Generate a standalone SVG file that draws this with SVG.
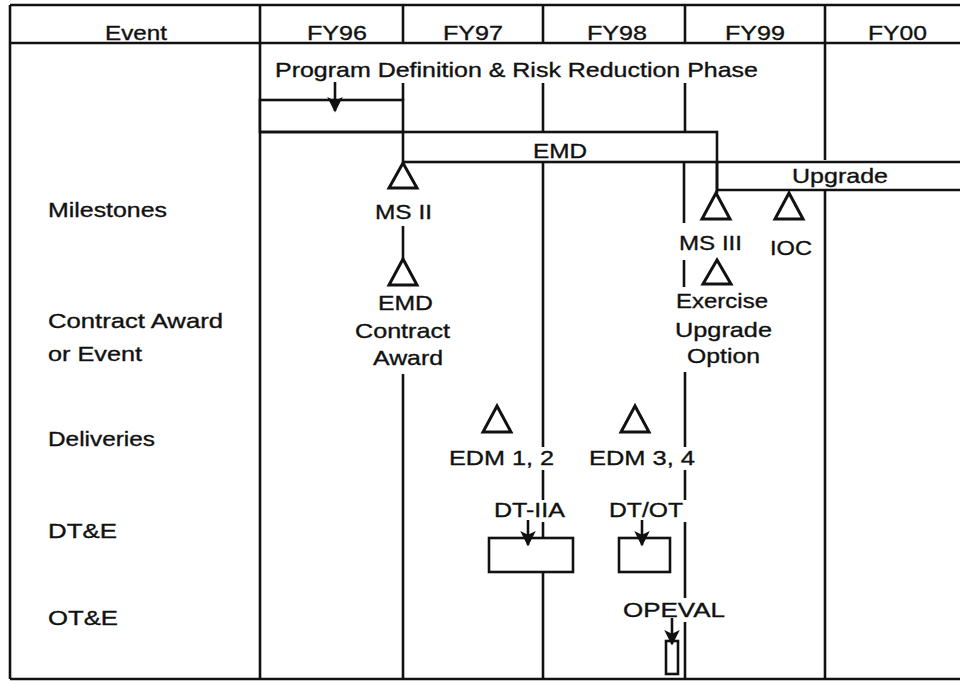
<svg xmlns="http://www.w3.org/2000/svg" width="960" height="681" viewBox="0 0 960 681">
<style>
.t{font-family:"Liberation Sans",Arial,Helvetica,sans-serif;font-size:21px;fill:#111;stroke:#111;stroke-width:0.35}
.ln{stroke:#111;stroke-width:2.6;fill:none;stroke-linecap:butt}
.box{stroke:#111;stroke-width:2.6;fill:#fff}
.tri{stroke:#111;stroke-width:3;fill:#fff;stroke-linejoin:miter}
</style>
<defs>
<marker id="ah" viewBox="0 0 10 10" refX="9" refY="5" markerWidth="6.5" markerHeight="6" orient="auto" markerUnits="strokeWidth">
<path d="M0,0 L10,5 L0,10 L2.5,5 z" fill="#111"/>
</marker>
</defs>
<rect width="960" height="681" fill="#fff"/>

<g id="grid" class="ln">
<line x1="10" y1="5" x2="960" y2="5"/>
<line x1="10" y1="43" x2="960" y2="43"/>
<line x1="10" y1="679" x2="960" y2="679"/>
<line x1="10" y1="5" x2="10" y2="679"/>
<line x1="260" y1="5" x2="260" y2="679"/>
<line x1="403" y1="5" x2="403" y2="43"/>
<line x1="543" y1="5" x2="543" y2="43"/>
<line x1="685" y1="5" x2="685" y2="43"/>
<line x1="825" y1="5" x2="825" y2="160"/>
<line x1="825" y1="190" x2="825" y2="679"/>
</g>

<g id="header">
<text class="t" x="105" y="40" textLength="62" lengthAdjust="spacingAndGlyphs">Event</text>
<text class="t" x="307" y="40" textLength="60" lengthAdjust="spacingAndGlyphs">FY96</text>
<text class="t" x="443" y="40" textLength="60" lengthAdjust="spacingAndGlyphs">FY97</text>
<text class="t" x="587" y="40" textLength="60" lengthAdjust="spacingAndGlyphs">FY98</text>
<text class="t" x="725" y="40" textLength="60" lengthAdjust="spacingAndGlyphs">FY99</text>
<text class="t" x="868" y="40" textLength="59" lengthAdjust="spacingAndGlyphs">FY00</text>
</g>

<g id="row-labels">
<text class="t" x="48" y="217" textLength="119" lengthAdjust="spacingAndGlyphs">Milestones</text>
<text class="t" x="48" y="328" textLength="175" lengthAdjust="spacingAndGlyphs">Contract Award</text>
<text class="t" x="48" y="361" textLength="94" lengthAdjust="spacingAndGlyphs">or Event</text>
<text class="t" x="48" y="446" textLength="107" lengthAdjust="spacingAndGlyphs">Deliveries</text>
<text class="t" x="48" y="538" textLength="69" lengthAdjust="spacingAndGlyphs">DT&amp;E</text>
<text class="t" x="48" y="625" textLength="70" lengthAdjust="spacingAndGlyphs">OT&amp;E</text>
</g>

<g id="pdrr">
<text class="t" x="275" y="77" textLength="483" lengthAdjust="spacingAndGlyphs">Program Definition &amp; Risk Reduction Phase</text>
<rect class="box" x="260" y="100" width="143" height="32"/>
</g>

<g id="emd">
<rect class="box" x="403" y="132" width="314" height="30"/>
<text class="t" x="533" y="158" textLength="54" lengthAdjust="spacingAndGlyphs">EMD</text>
</g>

<g id="upgrade">
<path class="ln" d="M717,162 H960 M717,162 V190 H960"/>
<text class="t" x="792" y="183" textLength="96" lengthAdjust="spacingAndGlyphs">Upgrade</text>
</g>

<g id="connectors" class="ln">
<line x1="403" y1="83" x2="403" y2="100"/>
<line x1="543" y1="83" x2="543" y2="132"/>
<line x1="685" y1="83" x2="685" y2="132"/>
<line x1="260" y1="132" x2="403" y2="132"/>
<line x1="403" y1="226" x2="403" y2="260"/>
<line x1="403" y1="374" x2="403" y2="679"/>
<line x1="543" y1="162" x2="543" y2="447"/>
<line x1="543" y1="470" x2="543" y2="500"/>
<line x1="543" y1="522" x2="543" y2="538"/>
<line x1="543" y1="572" x2="543" y2="679"/>
<line x1="684" y1="162" x2="684" y2="223"/>
<line x1="684" y1="260" x2="684" y2="287"/>
<line x1="685" y1="372" x2="685" y2="447"/>
<line x1="685" y1="470" x2="685" y2="500"/>
<line x1="685" y1="522" x2="685" y2="598"/>
<line x1="685" y1="622" x2="685" y2="679"/>
<line x1="717" y1="162" x2="717" y2="193"/>
<line x1="335" y1="82" x2="335" y2="111" marker-end="url(#ah)"/>
<line x1="528" y1="520" x2="528" y2="545" marker-end="url(#ah)"/>
<line x1="642" y1="520" x2="642" y2="545" marker-end="url(#ah)"/>
<line x1="672" y1="618" x2="672" y2="644" marker-end="url(#ah)"/>
</g>

<g id="ms2">
<polygon class="tri" points="403,163 389,188 417,188"/>
<text class="t" x="375" y="219" textLength="57" lengthAdjust="spacingAndGlyphs">MS II</text>
</g>

<g id="emd-award">
<polygon class="tri" points="403,259 389,285 417,285"/>
<text class="t" x="378" y="310" textLength="55" lengthAdjust="spacingAndGlyphs">EMD</text>
<text class="t" x="355" y="338" textLength="95" lengthAdjust="spacingAndGlyphs">Contract</text>
<text class="t" x="373" y="365" textLength="70" lengthAdjust="spacingAndGlyphs">Award</text>
</g>

<g id="ms3">
<polygon class="tri" points="716,193 702,219 730,219"/>
<text class="t" x="679" y="250" textLength="63" lengthAdjust="spacingAndGlyphs">MS III</text>
</g>

<g id="ioc">
<polygon class="tri" points="789,193 775,219 803,219"/>
<text class="t" x="770" y="255" textLength="42" lengthAdjust="spacingAndGlyphs">IOC</text>
</g>

<g id="exercise">
<polygon class="tri" points="717,260 703,284 731,284"/>
<text class="t" x="676" y="308" textLength="92" lengthAdjust="spacingAndGlyphs">Exercise</text>
<text class="t" x="675" y="337" textLength="97" lengthAdjust="spacingAndGlyphs">Upgrade</text>
<text class="t" x="687" y="363" textLength="73" lengthAdjust="spacingAndGlyphs">Option</text>
</g>

<g id="edm12">
<polygon class="tri" points="497,406 483,432 511,432"/>
<text class="t" x="449" y="465" textLength="105" lengthAdjust="spacingAndGlyphs">EDM 1, 2</text>
</g>

<g id="edm34">
<polygon class="tri" points="635,406 621,432 649,432"/>
<text class="t" x="589" y="465" textLength="106" lengthAdjust="spacingAndGlyphs">EDM 3, 4</text>
</g>

<g id="dt-iia">
<text class="t" x="494" y="517" textLength="71" lengthAdjust="spacingAndGlyphs">DT-IIA</text>
<rect class="box" x="489" y="538" width="84" height="34" fill-opacity="0"/>
</g>

<g id="dt-ot">
<text class="t" x="609" y="517" textLength="74" lengthAdjust="spacingAndGlyphs">DT/OT</text>
<rect class="box" x="619" y="538" width="51" height="34" fill-opacity="0"/>
</g>

<g id="opeval">
<text class="t" x="623" y="617" textLength="102" lengthAdjust="spacingAndGlyphs">OPEVAL</text>
<rect class="box" x="666" y="641" width="12" height="33" fill-opacity="0"/>
</g>
</svg>
